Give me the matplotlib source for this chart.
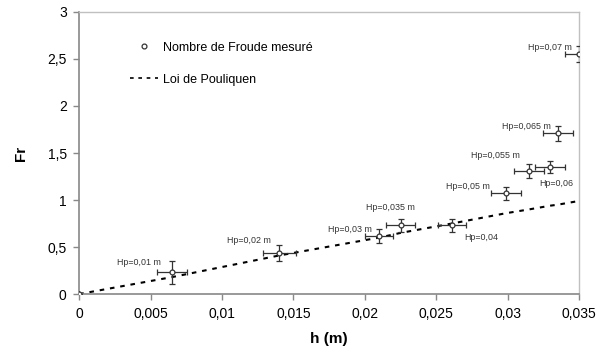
#!/usr/bin/env python3
"""Froude number vs flow depth, with Pouliquen law."""

import matplotlib

matplotlib.use("Agg")
import matplotlib.pyplot as plt
from matplotlib.lines import Line2D

plt.rcParams["font.family"] = ["Liberation Sans", "DejaVu Sans"]

# measured points
h_m = [0.0, 0.0065, 0.014, 0.021, 0.0225, 0.0261, 0.0299, 0.0315, 0.033, 0.0335, 0.035]
fr_meas = [0.0, 0.23, 0.44, 0.62, 0.73, 0.73, 1.07, 1.31, 1.35, 1.71, 2.55]
fr_err = [0.0, 0.12, 0.085, 0.075, 0.07, 0.065, 0.065, 0.075, 0.065, 0.08, 0.085]
h_err = [0.0, 0.00105, 0.00115, 0.001, 0.001, 0.001, 0.00105, 0.00105, 0.00105, 0.00105, 0.001]
labels = ["", "Hp=0,01 m", "Hp=0,02 m", "Hp=0,03 m", "Hp=0,035 m", "Hp=0,04",
          "Hp=0,05 m", "Hp=0,055 m", "Hp=0,06", "Hp=0,065 m", "Hp=0,07 m"]
# label offsets from each point, in pixels
label_dx = [0, -33, -30, -29, -10, 29, -38, -34, 6, -31, -29]
label_dy = [0, 10, 12, 6, 18, -12, 7, 15, -16, 7, 7]

# Pouliquen law evaluated at the same depths
fr_pouliquen = [0.0, 0.18, 0.41, 0.6, 0.65, 0.75, 0.86, 0.9, 0.94, 0.95, 0.99]


def main() -> int:
    fig = plt.figure(figsize=(6.0, 3.63), dpi=100)
    ax = fig.add_axes([0.132, 0.19, 0.833, 0.777])

    dotted = (0, (2.2, 2.8))
    ax.plot(h_m, fr_pouliquen, color="black", linestyle=dotted, linewidth=1.5, zorder=2)
    ax.errorbar(h_m, fr_meas, xerr=h_err, yerr=fr_err, fmt="o", markersize=3.5,
                markerfacecolor="white", markeredgecolor="#333333", markeredgewidth=0.9,
                ecolor="#333333", elinewidth=0.9, capsize=2, capthick=0.9, zorder=3)

    for x, y, text, dx, dy in zip(h_m, fr_meas, labels, label_dx, label_dy):
        if not text:
            continue
        ax.annotate(text, (x, y), xytext=(dx, dy), textcoords="offset pixels",
                    ha="center", va="center", fontsize=6.4, color="#333333")

    ax.set_xlim(0, 0.035)
    ax.set_ylim(0, 3)
    ax.set_xticks([0, 0.005, 0.01, 0.015, 0.02, 0.025, 0.03, 0.035])
    ax.set_xticklabels(["0", "0,005", "0,01", "0,015", "0,02", "0,025", "0,03", "0,035"])
    ax.set_yticks([0, 0.5, 1, 1.5, 2, 2.5, 3])
    ax.set_yticklabels(["0", "0,5", "1", "1,5", "2", "2,5", "3"])
    ax.tick_params(direction="out", length=4, width=1, color="#888888",
                   labelsize=10, pad=5)
    for side in ("left", "bottom"):
        ax.spines[side].set_color("#888888")
        ax.spines[side].set_linewidth(1.2)
    for side in ("top", "right"):
        ax.spines[side].set_color("#c0c0c0")
        ax.spines[side].set_linewidth(1.0)

    ax.set_xlabel("h (m)", fontsize=11, fontweight="bold", labelpad=8)
    ax.set_ylabel("Fr", fontsize=11, fontweight="bold", labelpad=14)

    handles = [
        Line2D([], [], linestyle="none", marker="o", markersize=3.5,
               markerfacecolor="white", markeredgecolor="#333333", markeredgewidth=0.9),
        Line2D([], [], color="black", linestyle=dotted, linewidth=1.2),
    ]
    ax.legend(handles, ["Nombre de Froude mesuré", "Loi de Pouliquen"], loc="upper left",
              bbox_to_anchor=(0.08, 0.935), frameon=False, fontsize=9,
              handlelength=2.2, handletextpad=0.4, labelspacing=1.6)

    fig.savefig("out.png", dpi=100)
    plt.close(fig)
    return 0


if __name__ == "__main__":
    raise SystemExit(main())
